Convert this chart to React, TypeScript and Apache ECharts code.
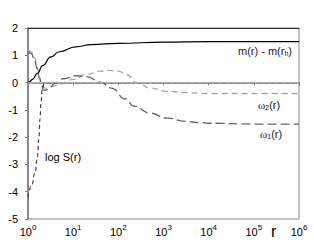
import React, { useEffect, useRef } from "react";
import * as echarts from "echarts";

const yTicks = [-5, -4, -3, -2, -1, 0, 1, 2];

const rM = [1, 1.1, 1.26, 1.62, 2.1, 3.2, 4.9, 11.5, 25, 100, 1000, 10000, 1000000];
const mVals = [0, 0.04, 0.12, 0.34, 0.62, 0.94, 1.13, 1.31, 1.39, 1.44, 1.48, 1.5, 1.5];

const rW1 = [1, 1.2, 1.4, 1.6, 1.8, 2.0, 2.2, 2.5, 3, 4, 6, 12, 20, 40, 70, 145, 220, 500, 1200, 3000, 6600, 10000, 100000, 1000000];
const w1Vals = [1.15, 1.05, 0.8, 0.5, 0.15, -0.12, -0.28, -0.28, -0.18, -0.02, 0.14, 0.25, 0.22, 0.02, -0.2, -0.6, -0.86, -1.12, -1.3, -1.42, -1.47, -1.49, -1.52, -1.52];

const rW2 = [1, 1.2, 1.4, 1.6, 1.8, 2.0, 2.3, 2.7, 3.5, 5, 10, 20, 40, 60, 100, 150, 260, 500, 1200, 3000, 10000, 1000000];
const w2Vals = [1.2, 1.12, 0.9, 0.55, 0.2, -0.05, -0.2, -0.2, -0.14, -0.06, 0.12, 0.3, 0.42, 0.45, 0.42, 0.3, 0.0, -0.2, -0.32, -0.37, -0.4, -0.4];

const rS = [1, 1.2, 1.43, 1.62, 1.74, 1.84, 1.94, 2.07, 2.3, 3, 1000000];
const sVals = [-4.2, -3.78, -3.3, -2.7, -2.08, -1.35, -0.74, -0.25, -0.03, 0, 0];

const zip = (xs: number[], ys: number[]) => xs.map((x, i) => [x, ys[i]]);

const FONT = "'Liberation Sans', Arial, sans-serif";

const subRich = {
  t: { fontSize: 11, fontFamily: FONT, fill: "#222", lineHeight: 12, verticalAlign: "top" },
  w: { fontSize: 11, fontFamily: "'Liberation Serif', serif", fill: "#222", lineHeight: 12, verticalAlign: "top" },
  sub: { fontSize: 7, fontFamily: FONT, fill: "#222", lineHeight: 6, padding: [10, 0, 0, 0], verticalAlign: "bottom" },
};

export default function App() {
  const ref = useRef<HTMLDivElement>(null);
  useEffect(() => {
    if (!ref.current) return;
    const chart = echarts.init(ref.current, undefined, { renderer: "svg" });
    const xBase = {
      type: "log" as const,
      logBase: 10,
      min: 1,
      max: 1000000,
    };
    chart.setOption({
      animation: false,
      backgroundColor: "#fff",
      grid: {
        left: 28,
        right: 15,
        top: 28,
        bottom: 27,
        show: true,
        borderColor: "#888",
        borderWidth: 1,
      },
      xAxis: [
        {
          ...xBase,
          position: "bottom",
          axisLine: { show: true, lineStyle: { color: "#888", width: 1.5 } },
          axisTick: { show: true, length: 3, lineStyle: { color: "#888" } },
          splitLine: { show: false },
          minorTick: { show: false },
          axisLabel: {
            margin: 4,
            color: "#000",
            fontFamily: FONT,
            formatter: (v: number) => `{b|10}{s|${Math.round(Math.log10(v))}}`,
            rich: {
              b: { fontSize: 11, fontFamily: FONT, color: "#000", lineHeight: 14, verticalAlign: "bottom" },
              s: { fontSize: 8, fontFamily: FONT, color: "#000", lineHeight: 8, verticalAlign: "top" },
            },
          },
        },
        {
          ...xBase,
          position: "top",
          axisLine: { show: true, lineStyle: { color: "#333", width: 1 } },
          axisTick: { show: false },
          axisLabel: { show: false },
          splitLine: { show: false },
        },
      ],
      yAxis: {
        type: "value",
        min: -5,
        max: 2,
        interval: 1,
        axisLine: { show: true, lineStyle: { color: "#888", width: 2 } },
        axisTick: { show: true, length: 3, lineStyle: { color: "#888" } },
        splitLine: { show: false },
        axisLabel: {
          margin: 10,
          color: "#000",
          fontSize: 11,
          fontFamily: FONT,
          formatter: (v: number) => (yTicks.includes(v) ? String(v) : ""),
        },
      },
      series: [
        {
          type: "line",
          name: "w2",
          data: zip(rW2, w2Vals),
          smooth: true,
          smoothMonotone: "x",
          showSymbol: false,
          lineStyle: { color: "#a6a6a6", width: 1.3, type: [6, 4] },
          markLine: {
            silent: true,
            symbol: "none",
            label: { show: false },
            lineStyle: { color: "#aaa", width: 1, type: "solid" },
            data: [{ yAxis: 0 }],
          },
        },
        {
          type: "line",
          name: "w1",
          data: zip(rW1, w1Vals),
          smooth: true,
          smoothMonotone: "x",
          showSymbol: false,
          lineStyle: { color: "#666", width: 1.3, type: [9, 4] },
        },
        {
          type: "line",
          name: "logS",
          data: zip(rS, sVals),
          smooth: true,
          smoothMonotone: "x",
          showSymbol: false,
          lineStyle: { color: "#444", width: 1.2, type: [4, 3] },
        },
        {
          type: "line",
          name: "m",
          data: zip(rM, mVals),
          smooth: true,
          smoothMonotone: "x",
          showSymbol: false,
          lineStyle: { color: "#000", width: 1.2, type: "solid" },
        },
      ],
      graphic: [
        {
          type: "text",
          x: 238,
          y: 45,
          style: { text: "{t|m(r) - m(r}{sub|h}{t|)}", rich: subRich },
        },
        {
          type: "text",
          x: 258,
          y: 99,
          style: { text: "{w|ω}{sub|2}{t|(r)}", rich: subRich },
        },
        {
          type: "text",
          x: 260,
          y: 128,
          style: { text: "{w|ω}{sub|1}{t|(r)}", rich: subRich },
        },
        {
          type: "text",
          x: 45,
          y: 151,
          style: { text: "log S(r)", font: `11px ${FONT}`, fill: "#000" },
        },
        {
          type: "text",
          x: 271,
          y: 223,
          style: { text: "r", font: `16px ${FONT}`, fill: "#000" },
        },
      ],
    });
    return () => chart.dispose();
  }, []);
  return (
    <div
      ref={ref}
      style={{ position: "fixed", left: 0, top: 0, width: 314, height: 246, background: "#fff" }}
    />
  );
}
